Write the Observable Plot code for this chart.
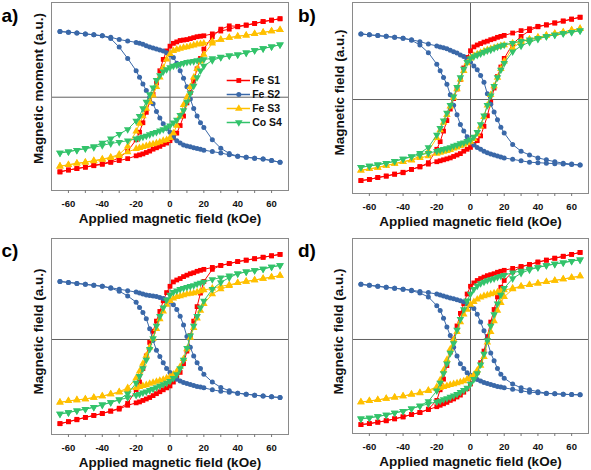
<!DOCTYPE html>
<html><head><meta charset="utf-8">
<script src="https://cdn.jsdelivr.net/npm/d3@7"></script>
<script src="https://cdn.jsdelivr.net/npm/@observablehq/plot@0.6"></script>
<style>
html,body{margin:0;padding:0;background:#fff;}
#fig{position:relative;width:591px;height:470px;overflow:hidden;font-family:"Liberation Sans",Arial,sans-serif;}
#fig svg{position:absolute;}
.lab{position:absolute;font-weight:bold;font-size:19px;line-height:19px;color:#000;}
</style></head><body><div id="fig"></div>
<script>
// Applied field grid (kOe)
const fieldH = [-65,-60,-55,-50,-45,-40,-35,-30,-25,-20,-18,-16,-14,-12,-10,-8,-6,-4,-2,0,2,4,6,8,10,12,14,16,18,20,25,30,35,40,45,50,55,60,65];
const seriesNames = ["Fe S1","Fe S2","Fe S3","Co S4"];
const seriesColors = ["#ff0000","#3a68a8","#ffc000","#33c36b"];
const xTickLabels = [-60,-40,-20,0,20,40,60];
const xTicksAll = [-60,-50,-40,-30,-20,-10,0,10,20,30,40,50,60];
const panelLetters = ["a)","b)","c)","d)"];
const yTitles = ["Magnetic moment (a.u.)","Magnetic field (a.u.)","Magnetic field (a.u.)","Magnetic field (a.u.)"];
const xTitle = "Applied magnetic field (kOe)";

// Panel a
const a_S1_up = [-79,-77,-75.5,-74,-72,-70.5,-68,-64,-57,-45,-37,-27,-16,-5,3,15,28,40,49,54,57,58.5,60,60.5,61,62,63,64,64.5,65,67,70,72,74.5,76,78,80,81.5,83];
const a_S1_dn = [-79,-77,-75.5,-74,-72.5,-71,-69,-67,-65,-62,-61,-60,-58.5,-57,-55,-53.5,-52,-50,-48.5,-46,-43,-38,-30,-20,-6,5,17,30,41,51,64,72,75.5,75,76.5,78,80,81.5,83];
const a_S2_a = [69.5,68.8,68,67,66,65,62,53,41,28,21,14,7,0,-7,-15,-22,-28,-33,-37,-42,-46,-48.5,-50.5,-51.5,-52.5,-53.5,-54.3,-55,-56,-57.5,-59,-61,-62.5,-63.5,-64.5,-65.5,-67,-68.8];
const a_S2_b = [69.5,68.8,68,67,66,65,63.5,61,59.5,58,57,56,54.5,53,52,51,50,49,47,45,42,36,28,20,11,-2,-12,-20,-27,-32,-45,-54,-59.5,-62.5,-63.5,-64.5,-65.5,-67,-68.8];
const a_S3_up = [-73,-71.5,-70,-68.8,-67,-65.5,-63.5,-60.5,-52,-36,-28,-20,-12,-5,2,11,21,31,40,46,49,50.5,51.5,52.5,53,54,55,56,56.5,57,59,61,63,64.5,65.5,67,68.5,70,71.3];
const a_S3_dn = [-73,-71.5,-70,-68.8,-67.5,-66,-64,-62,-58,-54.5,-53.5,-52.5,-51.5,-50.5,-49.5,-48.5,-47.5,-46,-45,-43,-38,-30,-20,-8,0,11,21,30,38,45,57,61,63,64.5,65.5,67,68.5,70,71.3];
const a_S4_up = [-59,-57.5,-56,-54,-52,-48.5,-44,-39,-34,-25,-20,-12,-5,3,10,18,23,27,29.5,31.5,33,34,35,36,37,37.5,38,39,39.5,40,41,42.5,44,45,47,49.4,51.5,53.5,55.5];
const a_S4_dn = [-59,-57.5,-56,-54.5,-53,-51,-49,-47.5,-46,-44,-43,-42,-41,-39.5,-38,-37,-35.5,-34,-32,-30,-27,-24,-19,-14,-5,4,12,21,28,33,39,42,44,45,47,49.4,51.5,53.5,55.5];

// Panel b
const b_S1_up = [-84.7,-83.5,-81.5,-80,-78,-76,-73,-70.5,-66,-52,-44,-33,-22,-10,1,11,21,33,44,51,55,57,58.5,60,61,62.5,63.5,65,66,67,69.5,72,74,76.5,78,80,82,84,86];
const b_S1_dn = [-84.7,-83.5,-81.5,-80,-78,-76.5,-73,-70,-67.5,-65,-64,-63,-62,-61,-59.5,-58,-56.5,-54,-52,-50,-47,-43,-38,-28,-17,-3,12,24,34,43,58,66,72,76,78,80,82,84,86];
const b_S2_a = [68.6,67.6,66.8,66,65,64,62,57,49,37,30,23,16,5,-6,-16,-26,-33,-39,-44,-47.5,-50,-52,-54,-55.5,-57,-58,-59,-60,-61,-62.5,-64,-65.5,-66,-66.5,-67,-67.5,-68,-68.5];
const b_S2_b = [68.6,67.6,66.8,66,65,64,62.5,60.5,58,56,55,54,53,51.5,50,48.5,46.5,45,42,39,35,31,25,18,6,-5,-13,-21,-29,-35,-47,-54,-58,-61,-63,-65,-66.5,-67.5,-68.5];
const b_S3_up = [-74,-72.5,-71,-69,-67,-65,-63,-59,-54,-40,-32,-24,-16,-7,2,11,21,30,38,43,46,47.5,49,50.5,52,53,54,55,56,57,59,61,63,65,67,69,70.5,72.5,74];
const b_S3_dn = [-74,-72.5,-71,-69,-67,-65,-63.5,-61,-59,-56.5,-55.5,-54.5,-53.5,-52.5,-51,-50,-48.5,-47,-45.5,-44,-41,-36,-28,-18,-6,5,14,23,32,40,54,60,63,65,67,69,70.5,72.5,74];
const b_S4_up = [-70.7,-69.5,-68,-66.5,-64.5,-62,-59.5,-56,-50,-37,-30,-22,-14,-6,3,13,23,32,39,43,45,46.5,48,49.5,51,52,53.5,55,56,57,59,61,62.5,64,66,67.5,69,70.5,72];
const b_S4_dn = [-70.7,-69.5,-68,-66.5,-64.5,-62,-60,-58,-56,-54,-53,-52,-51,-50,-48.5,-47.5,-46,-45,-43.5,-42,-39,-34,-26,-17,-6,4,14,23,31,38,50,56,60,63,66,67.5,69,70.5,72];

// Panel c
const c_S1_up = [-87,-85,-82.5,-80.5,-78.5,-76.5,-74,-71,-66,-52,-44,-30,-17,-3,8.5,19,29,40,48.5,55,59.5,61.5,63,65,66.5,68,69,70.5,71.5,72.5,74.5,76.6,78.5,80.5,82,83.5,85,86.5,88];
const c_S1_dn = [-87,-85,-83,-80.5,-78.5,-76.5,-74,-72,-68,-65.5,-64.5,-63,-61.5,-60,-58,-56,-54,-52,-50,-48,-44,-39.5,-34,-25,-12,4,19,34,48,60,72.5,76.5,78.5,80.5,82,83.5,85,86.5,88];
const c_S2_a = [60,59,58,57,56,55,53,50,45,38.6,33,28,21.5,11,-1,-11,-17.5,-24,-30,-34,-38,-41,-43,-44.5,-45.5,-46.5,-47.5,-48.5,-49,-50,-52,-53.5,-54.5,-55.5,-56.5,-57.5,-58.5,-59.3,-60];
const c_S2_b = [60,59,58,57,56,55,53.5,52,50.5,49,48,47,46,45.5,45,44.5,43.5,42.5,41,39.5,36,31,24,15,3,-8,-17,-24,-30,-36,-44,-49.5,-53,-55.5,-56.5,-57.5,-58.5,-59.3,-60];
const c_S3_up = [-65,-63.5,-62.5,-61.5,-60,-58.5,-56.5,-54,-50,-40,-33,-25,-16.6,-8,1,11,21,29,36,40,42.5,44,45,46,47,47.5,48,49,50,51,53,55,56.5,58.5,60,61.5,63,64.5,66];
const c_S3_dn = [-65,-63.5,-62.5,-61.5,-60,-58.5,-56.5,-54.5,-52,-50,-49,-48,-47,-45.5,-44.5,-43.5,-42.5,-41.5,-40,-38.5,-36,-33,-28,-20,-10,2,12,22,30,37,47,52,55.5,58.5,60,61.5,63,64.5,66];
const c_S4_up = [-77,-75.5,-73.5,-72,-70,-67.5,-65,-62,-56,-45,-38,-30,-21,-10,1,14,24,33,41,46,49,50.5,52,53,54,55,56,57.5,58.5,59.5,62,64,66,68,70,71.5,73,75,76.6];
const c_S4_dn = [-77,-75.5,-73.5,-72,-70,-67.5,-65,-62.5,-60,-57.5,-56.5,-55,-54,-52.5,-51,-49.5,-48,-46.5,-45,-43,-40,-36,-30,-21,-9,4,14,24,33,40,52,59,64,68,70,71.5,73,75,76.6];

// Panel d
const d_S1_up = [-88,-87,-85.5,-84,-82,-80,-77.5,-75.5,-72,-63,-52,-41,-27,-13,0,14,27,37,47,55,58.5,61,63,64.5,66,67,68,69.5,70.5,71.5,73.5,75.5,77.5,80,82,84,86,88,90];
const d_S1_dn = [-88,-87,-85.5,-84,-82,-80,-77.5,-75.5,-72.5,-69.5,-68,-66.5,-65,-63,-61.5,-59.5,-57.5,-54.5,-51,-46,-40,-34,-24,-12,3,18,31,44,54,61,70,75,77.5,80,82,84,86,88,90];
const d_S2_a = [57,56,55,54,53,52,50.5,48,44,35,30,22,13,4,-8,-17,-25,-30,-34.5,-37,-39.5,-41.5,-43,-44.5,-45.5,-46.5,-47.5,-48.5,-49,-50,-51.5,-53,-54.5,-55,-55.8,-56.2,-56.6,-57,-57.2];
const d_S2_b = [57,56,55,54,53,52,51,49.5,48.5,47,46,45,44,43,42,41,40,39,37,35,32,26,18,9,-2,-14,-22,-30,-36,-40,-46,-50,-52,-54,-55.5,-56.2,-56.6,-57,-57.2];
const d_S3_up = [-64.8,-63.5,-62.5,-61,-59.8,-58.5,-56.5,-55,-52.5,-49,-42,-32,-21,-10,0,8,18,26,31,36,39,41.5,43.5,45,46,47,48,49,50,51,53,55,56.5,58,59.5,61,62.5,64,65.5];
const d_S3_dn = [-64.8,-63.5,-62.5,-61,-59.8,-58.5,-57,-55.5,-53,-51,-50,-49,-48,-47,-46,-45,-44,-43,-41,-39.5,-36.5,-32,-27,-18,-3,8,19,30,38,44,52,55,56.5,58,59.5,61,62.5,64,65.5];
const d_S4_up = [-82,-81,-79.5,-78,-76,-74,-71.5,-68.5,-64,-53,-45,-35,-25,-14,-4,10,21,31,40,47,52,55.5,58,59.5,61,62,63,64.5,65.5,66.5,69,71,73,74.5,76.5,78,79.5,81,82.4];
const d_S4_dn = [-82,-81,-79.5,-78,-76,-74,-71.5,-69,-66.5,-64.5,-63.5,-62,-61,-59.5,-58,-56.5,-54.5,-52.5,-50,-46,-41,-35,-26,-15,-1,14,26,37,46,53,63,68.5,72,74.5,76.5,78,79.5,81,82.4];

const sqrt3 = Math.sqrt(3);
const triangleDown = {draw(context, size) {
  const y = -Math.sqrt(size / (sqrt3 * 3));
  context.moveTo(0, -y * 2);
  context.lineTo(-sqrt3 * y, y);
  context.lineTo(sqrt3 * y, y);
  context.closePath();
}};
const seriesSymbols = ["square","circle","triangle",triangleDown];
const symbolR = [2.7, 2.5, 2.8, 2.8];

const panels = [
  {data: [[a_S1_up,a_S1_dn],[a_S2_a,a_S2_b],[a_S3_up,a_S3_dn],[a_S4_up,a_S4_dn]],
   left: 0, top: 0, width: 295, mt: 2, mb: 45, ml: 51, mr: 7, yDomain: [-98.7, 100.2], ydy: -8, ydx: -13, legend: true},
  {data: [[b_S1_up,b_S1_dn],[b_S2_a,b_S2_b],[b_S3_up,b_S3_dn],[b_S4_up,b_S4_dn]],
   left: 295, top: 0, width: 296, mt: 2, mb: 42, ml: 57, mr: 3, yDomain: [-98.2, 101.4], ydy: -5.5, ydx: -13},
  {data: [[c_S1_up,c_S1_dn],[c_S2_a,c_S2_b],[c_S3_up,c_S3_dn],[c_S4_up,c_S4_dn]],
   left: 0, top: 235, width: 295, mt: 3, mb: 36, ml: 51, mr: 7, yDomain: [-98.2, 104.4], ydy: -5, ydx: -12.5},
  {data: [[d_S1_up,d_S1_dn],[d_S2_a,d_S2_b],[d_S3_up,d_S3_dn],[d_S4_up,d_S4_dn]],
   left: 295, top: 235, width: 296, mt: 3, mb: 37, ml: 57, mr: 3, yDomain: [-97.2, 104.4], ydy: -4.5, ydx: -14}
];

const fig = document.getElementById("fig");
const fontFamily = "'Liberation Sans', Arial, sans-serif";

panels.forEach((p, pi) => {
  const seriesMarks = [];
  p.data.forEach(([up, dn], si) => {
    const rows = [];
    up.forEach((M, i) => rows.push({H: fieldH[i], M, branch: "up"}));
    dn.forEach((M, i) => rows.push({H: fieldH[i], M, branch: "dn"}));
    seriesMarks.push(Plot.line(rows, {x: "H", y: "M", z: "branch", stroke: seriesColors[si], strokeWidth: 1}));
    seriesMarks.push(Plot.dot(rows, {x: "H", y: "M", symbol: seriesSymbols[si], r: symbolR[si], fill: seriesColors[si], stroke: "none"}));
  });
  const svg = Plot.plot({
    width: p.width, height: 235,
    marginTop: p.mt, marginBottom: p.mb, marginLeft: p.ml, marginRight: p.mr,
    style: {fontFamily, background: "transparent", overflow: "visible"},
    x: {domain: [-70, 70]},
    y: {domain: p.yDomain, axis: null},
    marks: [
      Plot.ruleY([0], {stroke: "#606060", strokeWidth: 1}),
      Plot.ruleX([0], {stroke: "#606060", strokeWidth: 1}),
      ...seriesMarks,
      Plot.frame({stroke: "#8a8a8a", strokeWidth: 1}),
      Plot.axisX({ticks: xTicksAll, tickSize: 3, tickPadding: 6.5, stroke: "#777",
        tickFormat: d => xTickLabels.includes(d) ? String(d) : "",
        fontSize: 9.5, fontWeight: "bold", fill: "#111", label: null}),
      Plot.text([xTitle], {frameAnchor: "bottom", dy: 28, text: d => d, fontSize: 13.5, fontWeight: "bold", fill: "#111", textAnchor: "middle", lineAnchor: "middle"}),
      Plot.text([yTitles[pi]], {frameAnchor: "left", dx: p.ydx, dy: p.ydy, rotate: -90, text: d => d, fontSize: 13.5, fontWeight: "bold", fill: "#111", textAnchor: "middle", lineAnchor: "middle"})
    ]
  });
  svg.style.left = p.left + "px";
  svg.style.top = p.top + "px";
  fig.appendChild(svg);

  const lab = document.createElement("div");
  lab.className = "lab";
  lab.textContent = panelLetters[pi];
  lab.style.left = (p.left === 0 ? 1.5 : 298) + "px";
  lab.style.top = (p.top + 5.6) + "px";
  fig.appendChild(lab);

  if (p.legend) {
    const legendMarks = [];
    seriesNames.forEach((name, si) => {
      legendMarks.push(Plot.ruleY([name], {y: d => d, x1: 0.7, x2: 24, stroke: seriesColors[si], strokeWidth: 1.5}));
      legendMarks.push(Plot.dot([name], {y: d => d, x: 12.3, symbol: seriesSymbols[si], r: symbolR[si], fill: seriesColors[si], stroke: "none"}));
    });
    legendMarks.push(Plot.text(seriesNames, {y: d => d, x: 25.7, text: d => d, textAnchor: "start", fontSize: 10.5, fontWeight: "bold", fill: "#111"}));
    const leg = Plot.plot({
      width: 66, height: 56, margin: 0,
      style: {fontFamily, background: "transparent", overflow: "visible"},
      x: {domain: [0, 66], range: [0, 66], axis: null},
      y: {type: "point", domain: seriesNames, range: [7, 49.3], padding: 0, axis: null},
      marks: legendMarks
    });
    leg.style.left = "226px";
    leg.style.top = "73px";
    fig.appendChild(leg);
  }
});
</script>
</body></html>
